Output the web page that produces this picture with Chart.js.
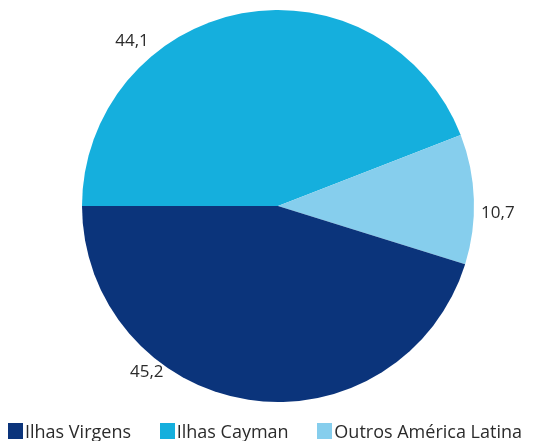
<!DOCTYPE html>
<html>
<head>
<meta charset="utf-8">
<script src="https://cdn.jsdelivr.net/npm/chart.js@4"></script>
<style>
  html, body { margin: 0; padding: 0; background: #fff; }
  #wrap { position: relative; width: 552px; height: 441px; }
  #legend {
    position: absolute; left: 8px; width: 514px; top: 420px;
    display: flex; justify-content: space-between;
    font: 18px "Open Sans", sans-serif; color: #2b2b2b; line-height: 22px;
  }
  #legend span.item { display: flex; align-items: center; white-space: nowrap; }
  #legend span.box { display: inline-block; width: 15px; height: 16px; margin-right: 2px; }
</style>
</head>
<body>
<div id="wrap">
  <canvas id="pieChart" width="552" height="441"></canvas>
  <div id="legend"></div>
</div>
<script>
// slices are listed clockwise from 9 o'clock
const categories = ['Ilhas Cayman', 'Outros América Latina', 'Ilhas Virgens'];
const shares = [44.1, 10.7, 45.2];
const shareLabels = ['44,1', '10,7', '45,2'];
const legendOrder = ['Ilhas Virgens', 'Ilhas Cayman', 'Outros América Latina'];
const colors = ['#15afdd', '#86ceed', '#0b347b'];

// where along each arc the value label sits (0 = start, 1 = end) and how far out
const labelAlong = [0.305, 0.6, 0.682];
const labelGap = [24, 24, 16];

const outsideLabels = {
  id: 'outsideLabels',
  afterDatasetsDraw(chart) {
    const ctx = chart.ctx;
    const meta = chart.getDatasetMeta(0);
    ctx.save();
    ctx.font = '17px "Open Sans", sans-serif';
    ctx.fillStyle = '#2b2b2b';
    ctx.textAlign = 'center';
    ctx.textBaseline = 'middle';
    meta.data.forEach((arc, i) => {
      const p = arc.getProps(['x', 'y', 'startAngle', 'endAngle', 'outerRadius'], true);
      const a = p.startAngle + (p.endAngle - p.startAngle) * labelAlong[i];
      const r = p.outerRadius + labelGap[i];
      ctx.fillText(shareLabels[i], p.x + Math.cos(a) * r, p.y + Math.sin(a) * r);
    });
    ctx.restore();
  }
};

const ctx1 = document.getElementById('pieChart').getContext('2d');
const pieChart = new Chart(ctx1, {
  type: 'pie',
  data: {
    labels: categories,
    datasets: [{
      data: shares,
      backgroundColor: colors,
      borderWidth: 0
    }]
  },
  options: {
    responsive: false,
    animation: false,
    rotation: -90,
    layout: { padding: { top: 10, left: 4, right: 0, bottom: 39 } },
    plugins: {
      tooltip: { enabled: false },
      legend: { display: false }
    }
  },
  plugins: [outsideLabels]
});

// legend in the reference order, colours taken from the dataset
const legendEl = document.getElementById('legend');
legendOrder.forEach(name => {
  const i = categories.indexOf(name);
  const item = document.createElement('span');
  item.className = 'item';
  const box = document.createElement('span');
  box.className = 'box';
  box.style.background = colors[i];
  item.appendChild(box);
  item.appendChild(document.createTextNode(name));
  legendEl.appendChild(item);
});
</script>
</body>
</html>
